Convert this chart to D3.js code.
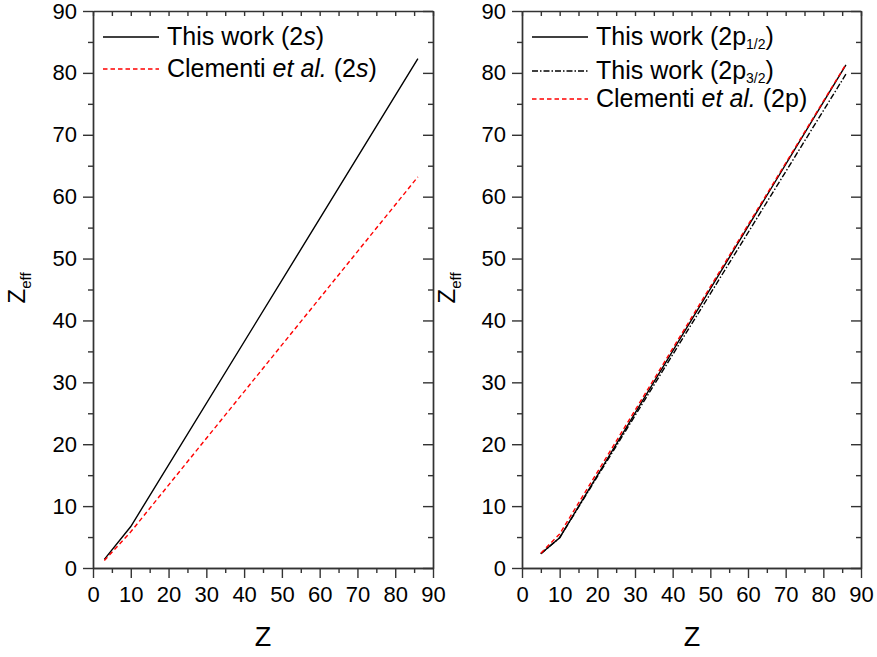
<!DOCTYPE html>
<html>
<head>
<meta charset="utf-8">
<script src="https://cdn.jsdelivr.net/npm/d3@7"></script>
<style>
body{margin:0;background:#fff;}
text{font-family:Arial,'Liberation Sans',sans-serif;fill:#000;}
</style>
</head>
<body>
<div id="chart"></div>
<script>
const w = 877;
const h = 657;

// data
const majorTicks = [0,10,20,30,40,50,60,70,80,90];
const minorTicks = [5,15,25,35,45,55,65,75,85];

const zLeft = [3, 10, 86];
const thisWork2s = [1.4, 6.7, 82.3];
const clementi2s = [1.2, 5.85, 63.2];

const zRight = [5, 10, 86];
const thisWork2p12 = [2.3, 4.9, 81.3];
const thisWork2p32 = [2.3, 4.9, 79.8];
const clementi2p = [2.4, 5.5, 81.4];

const svg = d3.select("#chart")
.append('svg')
.attr('width',w)
.attr('height',h);

const yTop = 11, yBot = 568;

function panel(x0, x1, series, legendRows, labelX, yLabX){
    const xScale = d3.scaleLinear().domain([0,90]).range([x0,x1]);
    const yScale = d3.scaleLinear().domain([0,90]).range([yBot,yTop]);
    const g = svg.append('g');

    //minor + major ticks, all four sides
    const fontSize = '22px';
    g.append('g').attr('transform',`translate(${x0},0)`)
    .call(d3.axisLeft(yScale).tickValues(majorTicks).tickSize(10).tickSizeOuter(0).tickPadding(6))
    .call(a=>a.selectAll('text').style('font-size',fontSize));
    g.append('g').attr('transform',`translate(${x0},0)`)
    .call(d3.axisLeft(yScale).tickValues(minorTicks).tickSize(5).tickSizeOuter(0).tickFormat(''));
    g.append('g').attr('transform',`translate(0,${yBot})`)
    .call(d3.axisBottom(xScale).tickValues(majorTicks).tickSize(10).tickSizeOuter(0).tickPadding(8))
    .call(a=>a.selectAll('text').style('font-size',fontSize));
    g.append('g').attr('transform',`translate(0,${yBot})`)
    .call(d3.axisBottom(xScale).tickValues(minorTicks).tickSize(5).tickSizeOuter(0).tickFormat(''));
    // right side, inward
    g.append('g').attr('transform',`translate(${x1},0)`)
    .call(d3.axisRight(yScale).tickValues(majorTicks).tickSize(-10).tickSizeOuter(0).tickFormat(''));
    g.append('g').attr('transform',`translate(${x1},0)`)
    .call(d3.axisRight(yScale).tickValues(minorTicks).tickSize(-5).tickSizeOuter(0).tickFormat(''));
    // top, inward
    g.append('g').attr('transform',`translate(0,${yTop})`)
    .call(d3.axisTop(xScale).tickValues(majorTicks.concat(minorTicks)).tickSize(-5).tickSizeOuter(0).tickFormat(''));

    g.selectAll('.domain').attr('stroke','#333').attr('stroke-width',1.4);
    g.selectAll('.tick line').attr('stroke','#333').attr('stroke-width',1.4);

    //lines
    const line = d3.line().x(d=>xScale(d[0])).y(d=>yScale(d[1]));
    series.forEach(s=>{
        g.append('path')
        .datum(s.z.map((z,i)=>[z,s.v[i]]))
        .attr('d',line)
        .attr('fill','none')
        .attr('stroke',s.color)
        .attr('stroke-width',1.4)
        .attr('stroke-dasharray',s.dash);
    });

    //legend
    legendRows.forEach(r=>{
        const s = series[r.i];
        g.append('line')
        .attr('x1',x0+10).attr('x2',x0+66)
        .attr('y1',r.y).attr('y2',r.y)
        .attr('stroke',s.color).attr('stroke-width',1.4)
        .attr('stroke-dasharray',s.dash);
        const t = g.append('text')
        .attr('x',x0+74).attr('y',r.y+8)
        .style('font-size','25px');
        r.parts.forEach(p=>{
            const ts = t.append('tspan').text(p.t);
            if(p.it) ts.style('font-style','italic');
            if(p.sub) ts.style('font-size','14px').attr('dy',4);
            if(p.up) ts.attr('dy',-4);
        });
    });

    //axis labels
    g.append('text')
    .attr('x',labelX).attr('y',646)
    .attr('text-anchor','middle')
    .style('font-size','27px')
    .text('Z');
    const yl = g.append('text')
    .attr('transform',`translate(${yLabX},288) rotate(-90)`)
    .attr('text-anchor','middle')
    .style('font-size','24px');
    yl.append('tspan').text('Z');
    yl.append('tspan').text('eff').style('font-size','15px').attr('dy',6);
}

panel(93, 433, [
    {z:zLeft, v:thisWork2s, color:'#000', dash:null},
    {z:zLeft, v:clementi2s, color:'#ff0000', dash:'4.5,3'}
],[
    {i:0, y:37, parts:[{t:'This work (2'},{t:'s',it:true},{t:')'}]},
    {i:1, y:69, parts:[{t:'Clementi '},{t:'et al.',it:true},{t:' (2'},{t:'s',it:true},{t:')'}]}
], 263, 25);

panel(522, 861, [
    {z:zRight, v:thisWork2p12, color:'#000', dash:null},
    {z:zRight, v:thisWork2p32, color:'#000', dash:'6,2,1.5,2'},
    {z:zRight, v:clementi2p, color:'#ff0000', dash:'4.5,3'}
],[
    {i:0, y:37, parts:[{t:'This work (2p'},{t:'1/2',sub:true},{t:')',up:true}]},
    {i:1, y:71, parts:[{t:'This work (2p'},{t:'3/2',sub:true},{t:')',up:true}]},
    {i:2, y:99, parts:[{t:'Clementi '},{t:'et al.',it:true},{t:' (2p)'}]}
], 692, 455);
</script>
</body>
</html>
